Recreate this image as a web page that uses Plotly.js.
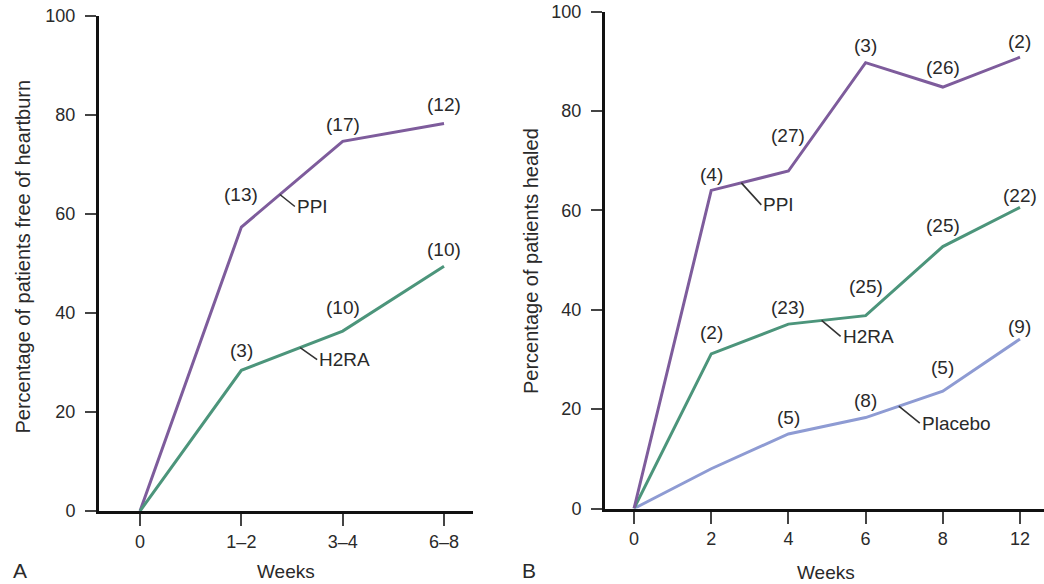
<!DOCTYPE html>
<html>
<head>
<meta charset="utf-8">
<script src="https://cdn.plot.ly/plotly-3.0.1.min.js"></script>
<style>html,body{margin:0;padding:0;background:#fff;}#chart{width:1044px;height:584px;}</style>
</head>
<body>
<div id="chart"></div>
<script>
// ---- Data ----
const weeksA = ["0", "1–2", "3–4", "6–8"];
const ppiA = [0, 57.3, 74.6, 78.2];
const h2raA = [0, 28.4, 36.3, 49.4];
const nPpiA = [null, 13, 17, 12];
const nH2raA = [null, 3, 10, 10];

const weeksB = ["0", "2", "4", "6", "8", "12"];
const ppiB = [0, 64.0, 67.9, 89.7, 84.8, 90.8];
const h2raB = [0, 31.1, 37.1, 38.8, 52.7, 60.6];
const placeboB = [0, 8.0, 15.0, 18.3, 23.6, 34.1];
const nPpiB = [null, 4, 27, 3, 26, 2];
const nH2raB = [null, 2, 23, 25, 25, 22];
const nPlaceboB = [null, null, 5, 8, 5, 9];

const yTicks = [0, 20, 40, 60, 80, 100];

// ---- Styles / layout helpers ----
const FONT = '"Liberation Sans", Arial, Helvetica, sans-serif';
const TXT = '#2a2a2a';
const C_PPI = '#7e5c9c', C_H2RA = '#4c957b', C_PLAC = '#8e9bd3';

function line(x, y, color, xa, ya, name) {
  return {type: 'scatter', mode: 'lines', x: x, y: y, xaxis: xa, yaxis: ya, name: name,
          line: {color: color, width: 3}, hoverinfo: 'skip', showlegend: false};
}

const traces = [
  line(weeksA, ppiA, C_PPI, 'x', 'y', 'PPI'),
  line(weeksA, h2raA, C_H2RA, 'x', 'y', 'H2RA'),
  line(weeksB, placeboB, C_PLAC, 'x2', 'y2', 'Placebo'),
  line(weeksB, h2raB, C_H2RA, 'x2', 'y2', 'H2RA'),
  line(weeksB, ppiB, C_PPI, 'x2', 'y2', 'PPI')
];

const annotations = [];
// sample-size labels, lifted above the points (lift in px is layout, not data)
function nLabels(ns, vals, xa, ya, lifts) {
  ns.forEach((n, i) => {
    if (n === null) return;
    annotations.push({xref: xa, yref: ya, x: i, y: vals[i], text: '(' + n + ')',
      showarrow: false, xanchor: 'center', yanchor: 'middle', yshift: lifts[i],
      font: {family: FONT, size: 19, color: TXT}});
  });
}
nLabels(nPpiA, ppiA, 'x', 'y', [0, 33, 17, 19]);
nLabels(nH2raA, h2raA, 'x', 'y', [0, 20, 24, 17]);
nLabels(nPpiB, ppiB, 'x2', 'y2', [0, 16, 36, 17, 20, 16]);
nLabels(nH2raB, h2raB, 'x2', 'y2', [0, 21, 17, 29, 21, 12]);
nLabels(nPlaceboB, placeboB, 'x2', 'y2', [0, 0, 16, 17, 24, 13]);

// series name labels with leader lines, anchored on the line itself
function seriesLabel(text, vals, seg, frac, xa, ya, ax, ay) {
  const y = vals[seg] + frac * (vals[seg + 1] - vals[seg]);
  annotations.push({xref: xa, yref: ya, x: seg + frac, y: y, text: text,
    showarrow: true, arrowhead: 0, arrowwidth: 1.6, arrowcolor: '#333',
    ax: ax, ay: ay, xanchor: 'left', yanchor: 'middle',
    font: {family: FONT, size: 19, color: TXT}});
}
seriesLabel('PPI', ppiA, 1, 0.38, 'x', 'y', 15, 12);
seriesLabel('H2RA', h2raA, 1, 0.58, 'x', 'y', 17, 12);
seriesLabel('PPI', ppiB, 1, 0.39, 'x2', 'y2', 20, 22);
seriesLabel('H2RA', h2raB, 2, 0.43, 'x2', 'y2', 19, 16);
seriesLabel('Placebo', placeboB, 3, 0.43, 'x2', 'y2', 21, 17);

// titles and panel letters
function paperText(text, x, y, size, angle) {
  annotations.push({xref: 'paper', yref: 'paper', x: x, y: y, text: text, showarrow: false,
    xanchor: 'center', yanchor: 'middle', textangle: angle || 0,
    font: {family: FONT, size: size, color: TXT}});
}
const W = 1044, H = 584;
paperText('Percentage of patients free of heartburn', 22 / W, 1 - 256.5 / H, 20, -90);
paperText('Percentage of patients healed', 531 / W, 1 - 261 / H, 20, -90);
paperText('Weeks', 286 / W, 1 - 571 / H, 19);
paperText('Weeks', 826 / W, 1 - 572 / H, 19);
paperText('A', 20 / W, 1 - 570 / H, 21);
paperText('B', 529 / W, 1 - 570 / H, 21);

const tickFont = {family: FONT, size: 18, color: TXT};
function xAxis(domain, range) {
  return {domain: domain, type: 'category', range: range, showline: true, linecolor: '#111',
    linewidth: 3, showgrid: false, zeroline: false, ticks: 'outside', ticklen: 12,
    tickwidth: 2, tickcolor: '#444', tickfont: tickFont, fixedrange: true};
}
function yAxis(domain, anchor) {
  return {domain: domain, anchor: anchor, range: [0, 100], tickvals: yTicks, showline: true,
    linecolor: '#111', linewidth: 3, showgrid: false, zeroline: false, ticks: 'outside',
    ticklen: 11, tickwidth: 2, tickcolor: '#444', tickfont: tickFont, fixedrange: true,
    ticklabelstandoff: 6};
}

const layout = {
  width: W, height: H,
  margin: {l: 0, r: 0, t: 0, b: 0, pad: 0},
  paper_bgcolor: '#fff', plot_bgcolor: '#fff',
  font: {family: FONT, color: TXT},
  showlegend: false,
  xaxis: Object.assign(xAxis([99 / W, 473 / W], [-0.405, 3.286]), {anchor: 'y'}),
  yaxis: yAxis([1 - 511 / H, 1 - 15.5 / H], 'x'),
  xaxis2: Object.assign(xAxis([605 / W, 1], [-0.376, 5.311]), {anchor: 'y2'}),
  yaxis2: yAxis([1 - 508.5 / H, 1 - 11.5 / H], 'x2'),
  annotations: annotations
};

Plotly.newPlot('chart', traces, layout, {displayModeBar: false, staticPlot: true});
</script>
</body>
</html>
